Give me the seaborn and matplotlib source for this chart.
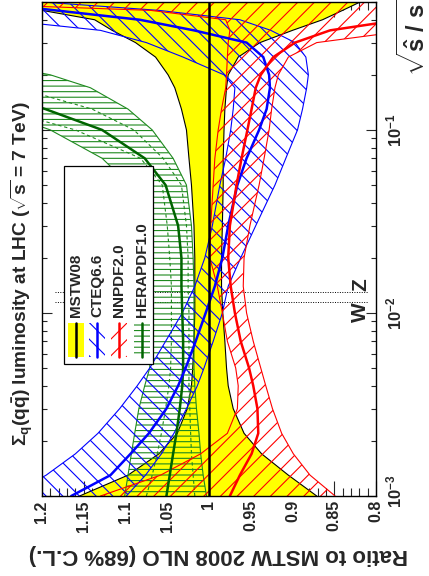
import numpy as np
import pandas as pd
import matplotlib
matplotlib.use("Agg")
import matplotlib.pyplot as plt
import seaborn as sns
from matplotlib.patches import Rectangle
from matplotlib.ticker import MultipleLocator, LogLocator, NullFormatter

# ---------------- data ----------------
tau = [0.001, 0.0013, 0.0017, 0.0022, 0.003, 0.004, 0.005, 0.007, 0.01, 0.014,
       0.02, 0.03, 0.05, 0.07, 0.1, 0.13, 0.17, 0.2, 0.25, 0.3, 0.35, 0.4, 0.45, 0.5]

mstw_c = [1.0] * len(tau)
mstw_hi = [1.155, 1.097, 1.060, 1.038, 1.026, 1.021, 1.0195, 1.018, 1.017, 1.017,
           1.017, 1.018, 1.021, 1.024, 1.027, 1.033, 1.041, 1.049, 1.064, 1.088,
           1.116, 1.137, 1.2, 1.3]
mstw_lo = [0.871, 0.905, 0.937, 0.958, 0.971, 0.977, 0.979, 0.981, 0.9835, 0.985,
           0.985, 0.984, 0.983, 0.983, 0.982, 0.981, 0.979, 0.977, 0.965, 0.939,
           0.900, 0.864, 0.840, 0.819]

cteq_c = [1.165, 1.118, 1.094, 1.072, 1.051, 1.037, 1.028, 1.016, 1.004, 0.993,
          0.984, 0.977, 0.966, 0.955, 0.940, 0.931, 0.927, 0.928, 0.935, 0.955,
          1.018, 1.083, 1.184, 1.275]
cteq_hi = [1.24, 1.195, 1.16, 1.133, 1.107, 1.086, 1.071, 1.052, 1.032, 1.017,
           1.005, 0.996, 0.987, 0.980, 0.974, 0.971, 0.969, 0.982, 1.031, 1.075,
           1.13, 1.25, 1.35, 1.45]
cteq_lo = [1.099, 1.076, 1.057, 1.042, 1.027, 1.014, 1.006, 0.995, 0.984, 0.977,
           0.962, 0.944, 0.921, 0.908, 0.894, 0.888, 0.883, 0.881, 0.884, 0.897,
           0.926, 0.963, 1.06, 1.2]

nnpdf_c = [0.975, 0.963, 0.949, 0.941, 0.942, 0.947, 0.952, 0.962, 0.969, 0.974,
           0.977, 0.975, 0.967, 0.961, 0.954, 0.949, 0.944, 0.938, 0.923, 0.897,
           0.855, 0.77, 0.72, 0.65]
nnpdf_hi = [1.13, 1.058, 1.01, 0.978, 0.966, 0.965, 0.968, 0.978, 0.984, 0.99,
            0.999, 0.998, 0.995, 0.993, 0.989, 0.985, 0.980, 0.979, 0.978, 0.977,
            0.975, 0.98, 1.07, 1.35]
nnpdf_lo = [0.849, 0.879, 0.899, 0.913, 0.924, 0.932, 0.938, 0.947, 0.955, 0.959,
            0.958, 0.951, 0.940, 0.934, 0.928, 0.925, 0.921, 0.917, 0.905, 0.871,
            0.76, 0.70, 0.65, 0.60]

tau_hera = tau[:19]
hera_c = [1.051, 1.047, 1.043, 1.039, 1.035, 1.032, 1.031, 1.031, 1.032, 1.033,
          1.033, 1.037, 1.052, 1.077, 1.128, 1.196, 1.28, 1.33, 1.4]
hera_hi = [1.101, 1.097, 1.093, 1.089, 1.084, 1.077, 1.071, 1.07, 1.07, 1.072,
           1.075, 1.08, 1.095, 1.128, 1.19, 1.26, 1.33, 1.4, 1.5]
hera_lo = [1.003, 1.007, 1.010, 1.012, 1.015, 1.017, 1.018, 1.018, 1.018, 1.018,
           1.019, 1.021, 1.027, 1.043, 1.068, 1.097, 1.142, 1.19, 1.3]
hera_exp_hi = [1.075, 1.068, 1.062, 1.057, 1.052, 1.048, 1.046, 1.045, 1.045, 1.045,
               1.047, 1.05, 1.056, 1.082, 1.16, 1.25, 1.35, 1.4, 1.5]
hera_exp_lo = [1.017, 1.019, 1.021, 1.022, 1.023, 1.024, 1.024, 1.024, 1.024, 1.025,
               1.025, 1.027, 1.033, 1.055, 1.09, 1.14, 1.23, 1.28, 1.35]

wz_tau = [0.0115, 0.0130]
wz_names = ["W", "Z"]
wz_label_tau = [0.0101, 0.0142]

ratio_ticks = [1.2, 1.15, 1.1, 1.05, 1.0, 0.95, 0.9, 0.85, 0.8]
ratio_ticklabels = ["1.2", "1.15", "1.1", "1.05", "1", "0.95", "0.9", "0.85", "0.8"]
tau_ticks = [1e-3, 1e-2, 1e-1]
tau_ticklabels = [r"$10^{-3}$", r"$10^{-2}$", r"$10^{-1}$"]

legend_names = ["MSTW08", "CTEQ6.6", "NNPDF2.0", "HERAPDF1.0"]

# ---------------- style ----------------
sns.set_style("ticks")
plt.rcParams.update({
    "font.family": ["Liberation Sans", "DejaVu Sans"],
    "font.weight": "bold",
    "mathtext.fontset": "custom",
    "mathtext.rm": "Liberation Sans:bold",
    "mathtext.it": "Liberation Sans:bold",
    "mathtext.bf": "Liberation Sans:bold",
    "mathtext.sf": "Liberation Sans:bold",
    "hatch.linewidth": 0.8,
    "axes.linewidth": 1.0,
    "axes.edgecolor": "black",
})

YEL = "#ffff00"
BLUE = "#0000ff"
RED = "#ff0000"
GRN = "#1f8a1f"
DGRN = "#006400"

fig = plt.figure(figsize=(4.29, 5.76), dpi=100)
ax = fig.add_axes([42 / 429, 80 / 576, 334 / 429, 494 / 576])
ax.set_yscale("log")

# W / Z lines
for t in wz_tau:
    ax.plot([1.184, 0.81], [t, t], ls=(0, (1, 1.5)), color="black", lw=0.7, zorder=1)
for t, n in zip(wz_label_tau, wz_names):
    ax.text(0.818, t, n, rotation=90, ha="center", va="center", fontsize=15,
            fontweight="bold", zorder=1)

# MSTW08
ax.fill_betweenx(tau, mstw_lo, mstw_hi, facecolor=YEL, edgecolor="none", lw=0, zorder=2)
ax.plot(mstw_lo, tau, color="black", lw=0.8, zorder=3)
ax.plot(mstw_hi, tau, color="black", lw=0.8, zorder=3)

# HERAPDF1.0
ax.fill_betweenx(tau_hera, hera_lo, hera_hi, facecolor="none", edgecolor=GRN,
                 hatch="---", lw=0, zorder=4)
for arr in (hera_lo, hera_hi):
    ax.plot(arr, tau_hera, color=GRN, lw=0.8, zorder=4)
for arr in (hera_exp_lo, hera_exp_hi):
    ax.plot(arr, tau_hera, color=GRN, lw=0.8, ls=(0, (3, 2.5)), zorder=4)

# CTEQ6.6
ax.fill_betweenx(tau, cteq_lo, cteq_hi, facecolor="none", edgecolor=BLUE,
                 hatch="\\\\", lw=0, zorder=5)
for arr in (cteq_lo, cteq_hi):
    ax.plot(arr, tau, color=BLUE, lw=0.8, zorder=5)

# NNPDF2.0
ax.fill_betweenx(tau, nnpdf_lo, nnpdf_hi, facecolor="none", edgecolor=RED,
                 hatch="//", lw=0, zorder=6)
for arr in (nnpdf_lo, nnpdf_hi):
    ax.plot(arr, tau, color=RED, lw=0.8, zorder=6)

# central lines via seaborn
sns.lineplot(x=hera_c, y=tau_hera, orient="y", sort=False, estimator=None,
             color=DGRN, lw=1.8, ax=ax, zorder=7)
sns.lineplot(x=cteq_c, y=tau, orient="y", sort=False, estimator=None,
             color=BLUE, lw=1.8, ax=ax, zorder=7)
sns.lineplot(x=nnpdf_c, y=tau, orient="y", sort=False, estimator=None,
             color=RED, lw=1.8, ax=ax, zorder=7)
sns.lineplot(x=mstw_c, y=tau, orient="y", sort=False, estimator=None,
             color="black", lw=1.8, ax=ax, zorder=8)

ax.set_xlim(1.2, 0.8)
ax.set_ylim(1e-3, 0.5)
ax.set_xlabel("")
ax.set_ylabel("")

# ticks
ax.set_xticks(ratio_ticks)
ax.set_xticklabels(ratio_ticklabels, rotation=90, fontsize=11.5, fontweight="bold")
ax.xaxis.set_minor_locator(MultipleLocator(0.01))
ax.tick_params(axis="x", which="major", direction="in", length=10.5, width=0.8,
               top=True, bottom=True, pad=3)
ax.tick_params(axis="x", which="minor", direction="in", length=5.5, width=0.8,
               top=True, bottom=True)
ax.set_yticks(tau_ticks)
ax.set_yticklabels([])
ax.yaxis.set_minor_locator(LogLocator(base=10, subs=np.arange(2, 10)))
ax.yaxis.set_minor_formatter(NullFormatter())
ax.tick_params(axis="y", which="major", direction="in", length=7, width=0.8,
               left=True, right=True, labelleft=False, labelright=False)
ax.tick_params(axis="y", which="minor", direction="in", length=3.6, width=0.8,
               left=True, right=True)
ytrans = ax.get_yaxis_transform()
for i, (t, lbl) in enumerate(zip(tau_ticks, tau_ticklabels)):
    ax.annotate(lbl, xy=(1.0, t), xycoords=ytrans, xytext=(6, 3.5 if i == 0 else 0),
                textcoords="offset points", rotation=90, ha="left", va="center",
                fontsize=12, fontweight="bold", annotation_clip=False)
for sp in ax.spines.values():
    sp.set_visible(True)
    sp.set_linewidth(1.0)
    sp.set_zorder(20)

# legend (drawn by hand, rotated like the chart)
ax.add_patch(Rectangle((0.0659, 0.267), 0.2664, 0.401, transform=ax.transAxes,
                       facecolor="white", edgecolor="black", lw=0.9, zorder=10))
cols = [0.1018, 0.1647, 0.2305, 0.2994]
specs = [(YEL, None, "black"), ("none", "\\\\", BLUE), ("none", "//", RED), ("none", "---", GRN)]
hw = 0.024
for cx, name, (fc, hatch, lc) in zip(cols, legend_names, specs):
    if hatch is None:
        ax.add_patch(Rectangle((cx - hw, 0.281), 2 * hw, 0.069, transform=ax.transAxes,
                               facecolor=fc, edgecolor="none", lw=0, zorder=11))
    else:
        ax.add_patch(Rectangle((cx - hw, 0.281), 2 * hw, 0.069, transform=ax.transAxes,
                               facecolor="none", edgecolor=lc, hatch=hatch, lw=0, zorder=11))
    ax.plot([cx, cx], [0.281, 0.350], transform=ax.transAxes, color=lc if lc != GRN else DGRN,
            lw=1.8, zorder=12)
    ax.text(cx, 0.362, name, transform=ax.transAxes, rotation=90, ha="center", va="bottom",
            fontsize=11, fontweight="bold", zorder=12)

# titles / axis labels
fig.text(0.052, (576 - 446) / 576, r"$\Sigma_{q}(q\bar{q})$ luminosity at LHC ($\sqrt{s}$ = 7 TeV)",
         rotation=90, ha="center", va="bottom", fontsize=13.8, fontweight="bold")
fig.text(0.51, 0.0365, "Ratio to MSTW 2008 NLO (68% C.L.)", rotation=180,
         ha="center", va="center", fontsize=16, fontweight="bold")
fig.text(0.965, 1.0, r"$\sqrt{\hat{s}\ /\ s}$", rotation=90, ha="center", va="top",
         fontsize=17, fontweight="bold")

fig.savefig("out.png", dpi=100, facecolor="white")
